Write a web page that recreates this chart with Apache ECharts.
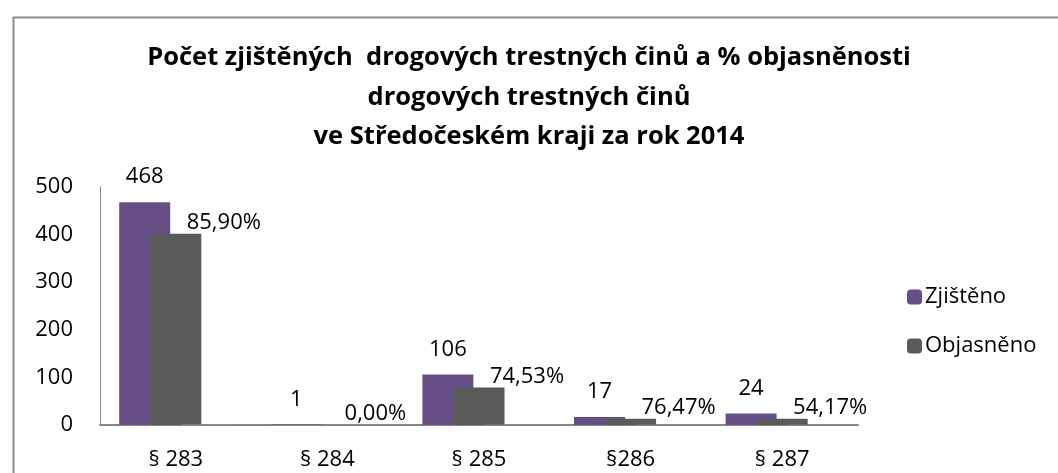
<!DOCTYPE html>
<html><head><meta charset="utf-8">
<script src="https://cdn.jsdelivr.net/npm/echarts@6/dist/echarts.min.js"></script>
<style>html,body{margin:0;padding:0;background:#fff}#c{width:1058px;height:473px}</style>
</head><body><div id="c"></div>
<script>
const categories = ['§ 283', '§ 284', '§ 285', '§286', '§ 287'];
const zjisteno = [468, 1, 106, 17, 24];
const objasneno = [402, 0, 79, 13, 13];
const objasnenostPct = [0.859, 0.0, 0.7453, 0.7647, 0.5417];
const yTicks = [0, 100, 200, 300, 400, 500];

const FONT = 'Open Sans';
const FS = 22;
const chart = echarts.init(document.getElementById('c'), null, {renderer: 'canvas'});
chart.setOption({
  animation: false,
  backgroundColor: '#fff',
  title: {
    text: 'Počet zjištěných  drogových trestných činů a % objasněnosti\ndrogových trestných činů\nve Středočeském kraji za rok 2014',
    left: 'center', top: 33, padding: [5, 0, 5, 18],
    textStyle: {fontFamily: FONT, fontWeight: 'bold', fontSize: 25.5, lineHeight: 39.5, color: '#000'}
  },
  graphic: [{
    type: 'rect', left: 11, top: 15, z: -1,
    shape: {width: 1100, height: 500},
    style: {fill: 'none', stroke: '#8c8c8c', lineWidth: 2}
  }],
  legend: {
    orient: 'vertical', left: 902, top: 281,
    itemWidth: 15, itemHeight: 15, itemGap: 27,
    data: ['Zjištěno', 'Objasněno'],
    textStyle: {fontFamily: FONT, fontSize: FS, color: '#000', padding: [0, 0, 0, -2]}
  },
  grid: {left: 100, right: 200, top: 187, bottom: 48, containLabel: false},
  xAxis: {
    type: 'category', data: categories,
    axisLine: {lineStyle: {color: '#868686', width: 2}},
    axisTick: {show: false},
    axisLabel: {fontFamily: FONT, fontSize: FS, color: '#000', margin: 24}
  },
  yAxis: {
    type: 'value', min: yTicks[0], max: yTicks[yTicks.length - 1], interval: 100,
    axisLine: {show: true, lineStyle: {color: '#868686', width: 1}},
    axisTick: {show: false},
    splitLine: {show: false},
    axisLabel: {fontFamily: FONT, fontSize: FS, color: '#000', margin: 27}
  },
  series: [
    {
      name: 'Zjištěno', type: 'bar', data: zjisteno, barWidth: 51, barGap: '-39%',
      itemStyle: {color: '#664F86'},
      label: {show: true, position: 'top', distance: 14, fontFamily: FONT, fontSize: FS, color: '#000'}
    },
    {
      name: 'Objasněno', type: 'bar', data: objasneno, barWidth: 51, barGap: '-39%',
      itemStyle: {color: '#5A5A5A'},
      label: {
        show: true, position: 'top', distance: 2, offset: [48, 2],
        fontFamily: FONT, fontSize: FS, color: '#000',
        formatter: p => (objasnenostPct[p.dataIndex] * 100).toFixed(2).replace('.', ',') + '%'
      }
    },
    {
      name: '% objasněnosti', type: 'bar', data: objasnenostPct, barWidth: 51, barGap: '-39%',
      itemStyle: {color: '#9C8CC4'}
    }
  ]
});
</script></body></html>
